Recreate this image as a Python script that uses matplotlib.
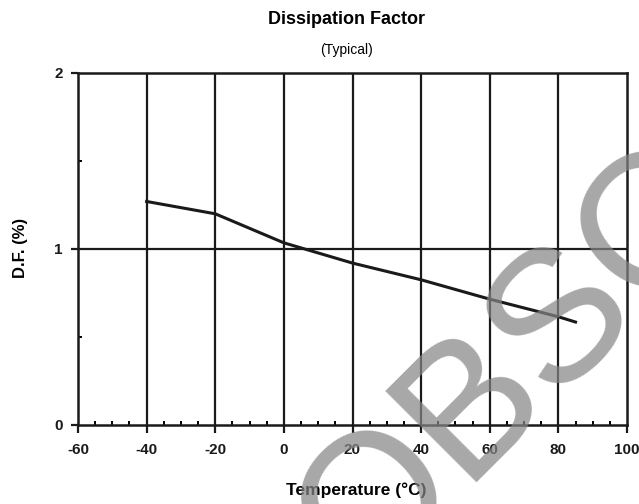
import matplotlib
matplotlib.use('Agg')
import matplotlib.pyplot as plt
from matplotlib.ticker import MultipleLocator

plt.rcParams['font.family'] = 'Liberation Sans'
plt.rcParams['axes.unicode_minus'] = False

# data
temp_c = [-40, -20, 0, 20, 40, 60, 80, 85]
df_pct = [1.27, 1.20, 1.035, 0.92, 0.825, 0.715, 0.615, 0.585]

x_ticks = [-60, -40, -20, 0, 20, 40, 60, 80, 100]
y_ticks = [0, 1, 2]

W, H = 639, 504
fig = plt.figure(figsize=(W / 100, H / 100), dpi=100)
ax = fig.add_axes([78 / W, 1 - 425 / H, 549 / W, 352 / H])

ax.plot(temp_c, df_pct, color='#1a1a1a', linewidth=2.2, zorder=3)

ax.set_xlim(-60, 100)
ax.set_ylim(0, 2)
ax.set_xticks(x_ticks)
ax.set_yticks(y_ticks)
ax.xaxis.set_minor_locator(MultipleLocator(5))
ax.yaxis.set_minor_locator(MultipleLocator(0.5))

for xv in x_ticks[1:-1]:
    ax.axvline(xv, color='#1a1a1a', linewidth=1.6, zorder=2)
ax.axhline(1, color='#1a1a1a', linewidth=1.6, zorder=2)

for s in ax.spines.values():
    s.set_linewidth(1.8)
    s.set_color('#1a1a1a')

ax.tick_params(axis='x', which='major', direction='out', length=6, width=1.6,
               labelsize=11, pad=7, colors='#1a1a1a')
ax.tick_params(axis='x', which='minor', direction='in', length=3, width=1.4)
ax.tick_params(axis='y', which='major', direction='out', length=5, width=1.6,
               labelsize=11, pad=6, colors='#1a1a1a')
ax.tick_params(axis='y', which='minor', direction='in', length=3, width=1.4)
for lab in ax.get_xticklabels() + ax.get_yticklabels():
    lab.set_fontweight('bold')

fig.text(356 / W, 1 - 490 / H, 'Temperature (°C)', ha='center', va='center',
         fontsize=12.5, fontweight='bold')
fig.text(20 / W, 1 - 248 / H, 'D.F. (%)', ha='center', va='center',
         rotation=90, fontsize=12, fontweight='bold')

fig.text(347 / W, 1 - 20 / H, 'Dissipation Factor', ha='center', va='center',
         fontsize=13, fontweight='bold')
fig.text(347 / W, 1 - 50 / H, '(Typical)', ha='center', va='center', fontsize=10)

# watermark
fig.text(0.565, -0.17, 'OBSOLETE', rotation=45, rotation_mode='anchor',
         ha='left', va='baseline', fontsize=135, color='#868686', alpha=0.72,
         zorder=10)

fig.savefig('out.png', dpi=100)
